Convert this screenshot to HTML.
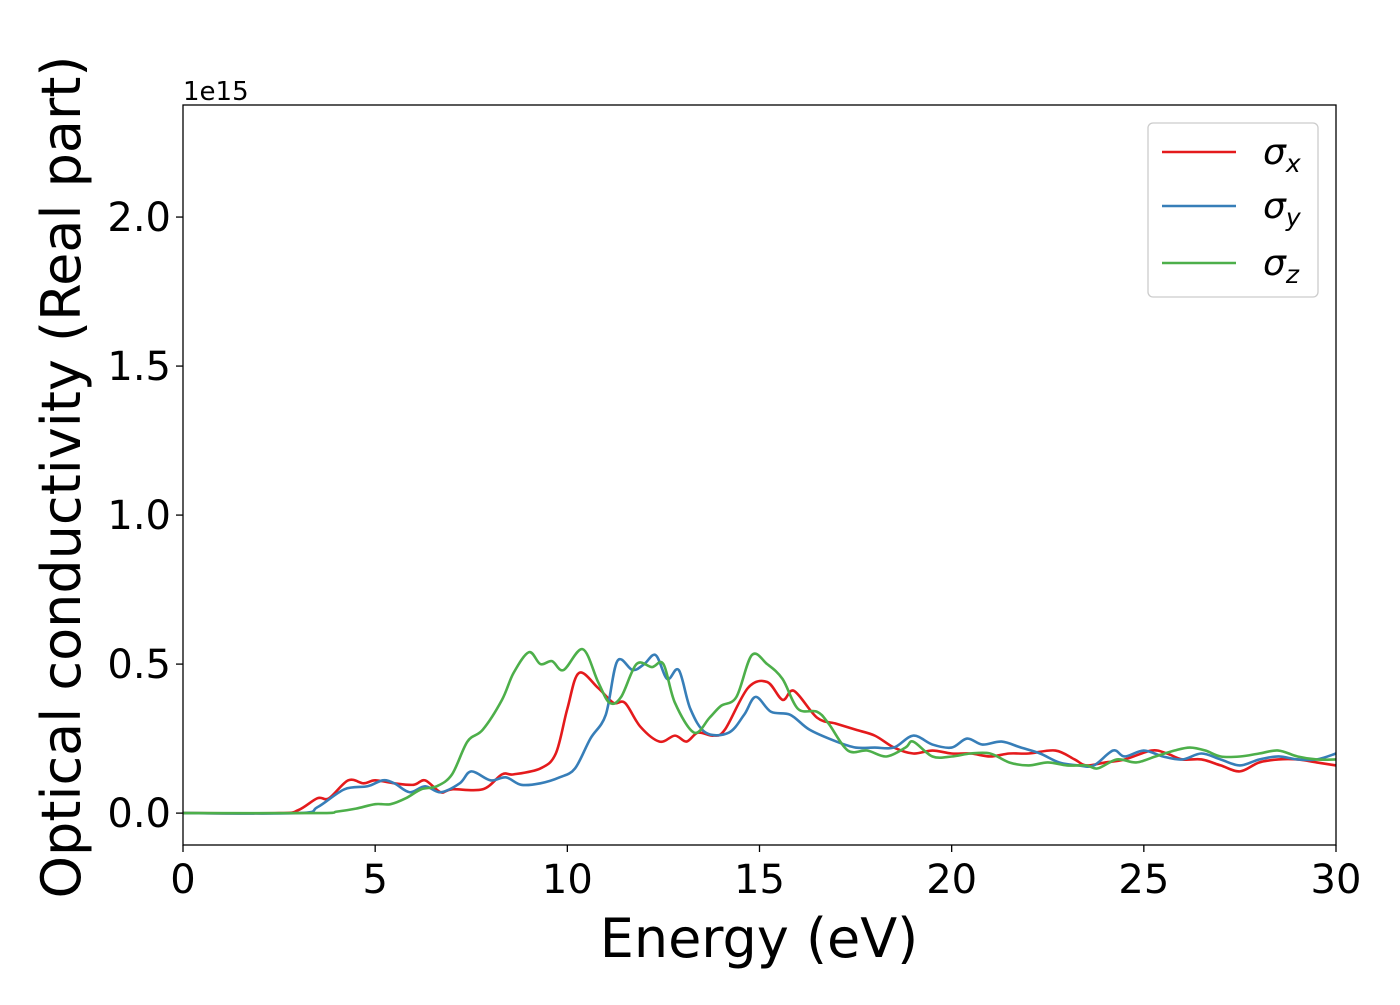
<!DOCTYPE html>
<html><head><meta charset="utf-8"><style>
body{margin:0;background:#fff}
svg text{font-family:"DejaVu Sans","Liberation Sans",sans-serif}
</style></head><body>
<svg id="chart" width="1400" height="1000" xmlns="http://www.w3.org/2000/svg">
<rect width="1400" height="1000" fill="#fff"/>
<g id="series"></g>
<rect x="183" y="105" width="1153" height="740" fill="none" stroke="#000" stroke-width="1.3"/>
<g id="xticks"></g>
<g id="yticks"></g>
<text x="183" y="100" font-size="26">1e15</text>
<text x="759" y="957" font-size="54" text-anchor="middle">Energy (eV)</text>
<text transform="translate(80,477) rotate(-90)" font-size="54" text-anchor="middle">Optical conductivity (Real part)</text>
<g>
<rect x="1148" y="123" width="170" height="174" rx="5" fill="#fff" stroke="#ccc" stroke-width="1.3"/>
<line x1="1162" y1="152" x2="1236" y2="152" stroke="#e41a1c" stroke-width="2.6"/>
<text x="1263" y="164" font-size="36" font-style="italic">σ<tspan font-size="25" dy="8">x</tspan></text>
<line x1="1162" y1="206" x2="1236" y2="206" stroke="#377eb8" stroke-width="2.6"/>
<text x="1263" y="218" font-size="36" font-style="italic">σ<tspan font-size="25" dy="8">y</tspan></text>
<line x1="1162" y1="263" x2="1236" y2="263" stroke="#4daf4a" stroke-width="2.6"/>
<text x="1263" y="275" font-size="36" font-style="italic">σ<tspan font-size="25" dy="8">z</tspan></text>
</g>
</svg>
<script>
const xTicks=[0,5,10,15,20,25,30];
const yTicks=[0.0,0.5,1.0,1.5,2.0];
const yTickLabels=["0.0","0.5","1.0","1.5","2.0"];
const energyX=[0,2.5,3,3.5,3.8,4.3,4.7,5.0,5.5,6.0,6.3,6.7,7.0,7.8,8.3,8.6,9.3,9.7,10.0,10.3,10.8,11.2,11.5,11.9,12.4,12.8,13.1,13.4,13.8,14.1,14.7,15.2,15.6,15.9,16.5,17.0,17.5,18.0,18.5,19.0,19.5,20.0,20.5,21.0,21.5,22.0,22.7,23.2,23.5,24.0,24.5,25.2,25.6,26.0,26.5,27.0,27.5,28.0,28.5,29.0,29.5,30];
const sigmaX=[0,0,0.01,0.05,0.05,0.11,0.1,0.11,0.1,0.095,0.11,0.07,0.08,0.08,0.13,0.13,0.15,0.2,0.35,0.47,0.42,0.37,0.37,0.29,0.24,0.26,0.24,0.27,0.26,0.28,0.42,0.44,0.38,0.41,0.32,0.3,0.28,0.26,0.22,0.2,0.21,0.2,0.2,0.19,0.2,0.2,0.21,0.18,0.16,0.17,0.18,0.21,0.2,0.18,0.18,0.16,0.14,0.17,0.18,0.18,0.17,0.16];
const energyY=[0,3,3.5,4.2,4.8,5.2,5.5,5.9,6.3,6.7,7.2,7.5,8.0,8.4,8.8,9.3,9.8,10.2,10.6,11.0,11.3,11.7,12.0,12.3,12.6,12.9,13.2,13.6,14.2,14.6,14.9,15.3,15.8,16.3,17.0,17.5,18.0,18.5,19.0,19.5,20.0,20.4,20.8,21.3,21.8,22.3,22.8,23.3,23.7,24.2,24.5,25.0,25.5,26.0,26.5,27.0,27.5,28.0,28.5,29.0,29.5,30];
const sigmaY=[0,0,0.02,0.08,0.09,0.11,0.1,0.07,0.09,0.07,0.1,0.14,0.11,0.12,0.095,0.1,0.12,0.15,0.25,0.33,0.51,0.48,0.5,0.53,0.45,0.48,0.35,0.27,0.27,0.33,0.39,0.34,0.33,0.28,0.24,0.22,0.22,0.22,0.26,0.23,0.22,0.25,0.23,0.24,0.22,0.2,0.17,0.16,0.16,0.21,0.19,0.21,0.19,0.18,0.2,0.18,0.16,0.18,0.19,0.18,0.18,0.2];
const energyZ=[0,3.5,4.0,4.5,5.0,5.4,5.8,6.2,6.6,7.0,7.4,7.8,8.3,8.6,9.0,9.3,9.6,9.9,10.4,10.8,11.1,11.4,11.8,12.2,12.5,12.8,13.3,13.7,14.0,14.4,14.8,15.2,15.6,16.0,16.5,16.8,17.3,17.8,18.3,18.8,19.0,19.5,20.0,20.5,21.0,21.5,22.0,22.5,23.0,23.5,23.8,24.3,24.8,25.3,25.8,26.2,26.6,27.0,27.5,28.0,28.5,29.0,29.5,30];
const sigmaZ=[0,0,0.005,0.015,0.03,0.03,0.05,0.08,0.09,0.13,0.24,0.28,0.38,0.47,0.54,0.5,0.51,0.48,0.55,0.44,0.37,0.39,0.5,0.49,0.5,0.37,0.27,0.32,0.36,0.39,0.53,0.5,0.45,0.35,0.34,0.3,0.21,0.21,0.19,0.22,0.24,0.19,0.19,0.2,0.2,0.17,0.16,0.17,0.16,0.16,0.15,0.18,0.17,0.19,0.21,0.22,0.21,0.19,0.19,0.2,0.21,0.19,0.18,0.18];

const X0=183,X1=1336,Y0=845,Y1=105;
const xMin=0,xMax=30,yMin=-0.107,yMax=2.376;
const sx=v=>X0+(v-xMin)/(xMax-xMin)*(X1-X0);
const sy=v=>Y0-(v-yMin)/(yMax-yMin)*(Y0-Y1);
const NS="http://www.w3.org/2000/svg";
function mk(t){return document.createElementNS(NS,t);}
function pathFor(xs,ys){
  const p=xs.map((x,i)=>[sx(x),sy(ys[i])]);
  let d="M"+p[0][0]+","+p[0][1];
  for(let i=0;i<p.length-1;i++){
    const a=p[Math.max(0,i-1)],b=p[i],c=p[i+1],e=p[Math.min(p.length-1,i+2)];
    const c1=[b[0]+(c[0]-a[0])/6,b[1]+(c[1]-a[1])/6];
    const c2=[c[0]-(e[0]-b[0])/6,c[1]-(e[1]-b[1])/6];
    d+=" C"+c1+" "+c2+" "+c;
  }
  return d;
}
const sg=document.getElementById("series");
[[energyX,sigmaX,"#e41a1c","sigma-x-line"],[energyY,sigmaY,"#377eb8","sigma-y-line"],[energyZ,sigmaZ,"#4daf4a","sigma-z-line"]].forEach(s=>{
  const p=mk("path");
  p.setAttribute("d",pathFor(s[0],s[1]));
  p.setAttribute("fill","none");p.setAttribute("stroke",s[2]);p.setAttribute("stroke-width","2.6");
  
  
  sg.appendChild(p);
});
const xg=document.getElementById("xticks");
xTicks.forEach(v=>{
  const l=mk("line");l.setAttribute("x1",sx(v));l.setAttribute("x2",sx(v));l.setAttribute("y1",Y0);l.setAttribute("y2",Y0+7);l.setAttribute("stroke","#000");l.setAttribute("stroke-width","1.3");
  
  
  xg.appendChild(l);
  const t=mk("text");t.setAttribute("x",sx(v));t.setAttribute("y",Y0+48);t.setAttribute("font-size","40");t.setAttribute("text-anchor","middle");t.textContent=v;
  
  
  xg.appendChild(t);
});
const yg=document.getElementById("yticks");
yTicks.forEach((v,i)=>{
  const l=mk("line");l.setAttribute("x1",X0-7);l.setAttribute("x2",X0);l.setAttribute("y1",sy(v));l.setAttribute("y2",sy(v));l.setAttribute("stroke","#000");l.setAttribute("stroke-width","1.3");
  
  
  yg.appendChild(l);
  const t=mk("text");t.setAttribute("x",X0-12);t.setAttribute("y",sy(v)+14);t.setAttribute("font-size","40");t.setAttribute("text-anchor","end");t.textContent=yTickLabels[i];
  
  
  yg.appendChild(t);
});
</script>
</body></html>
